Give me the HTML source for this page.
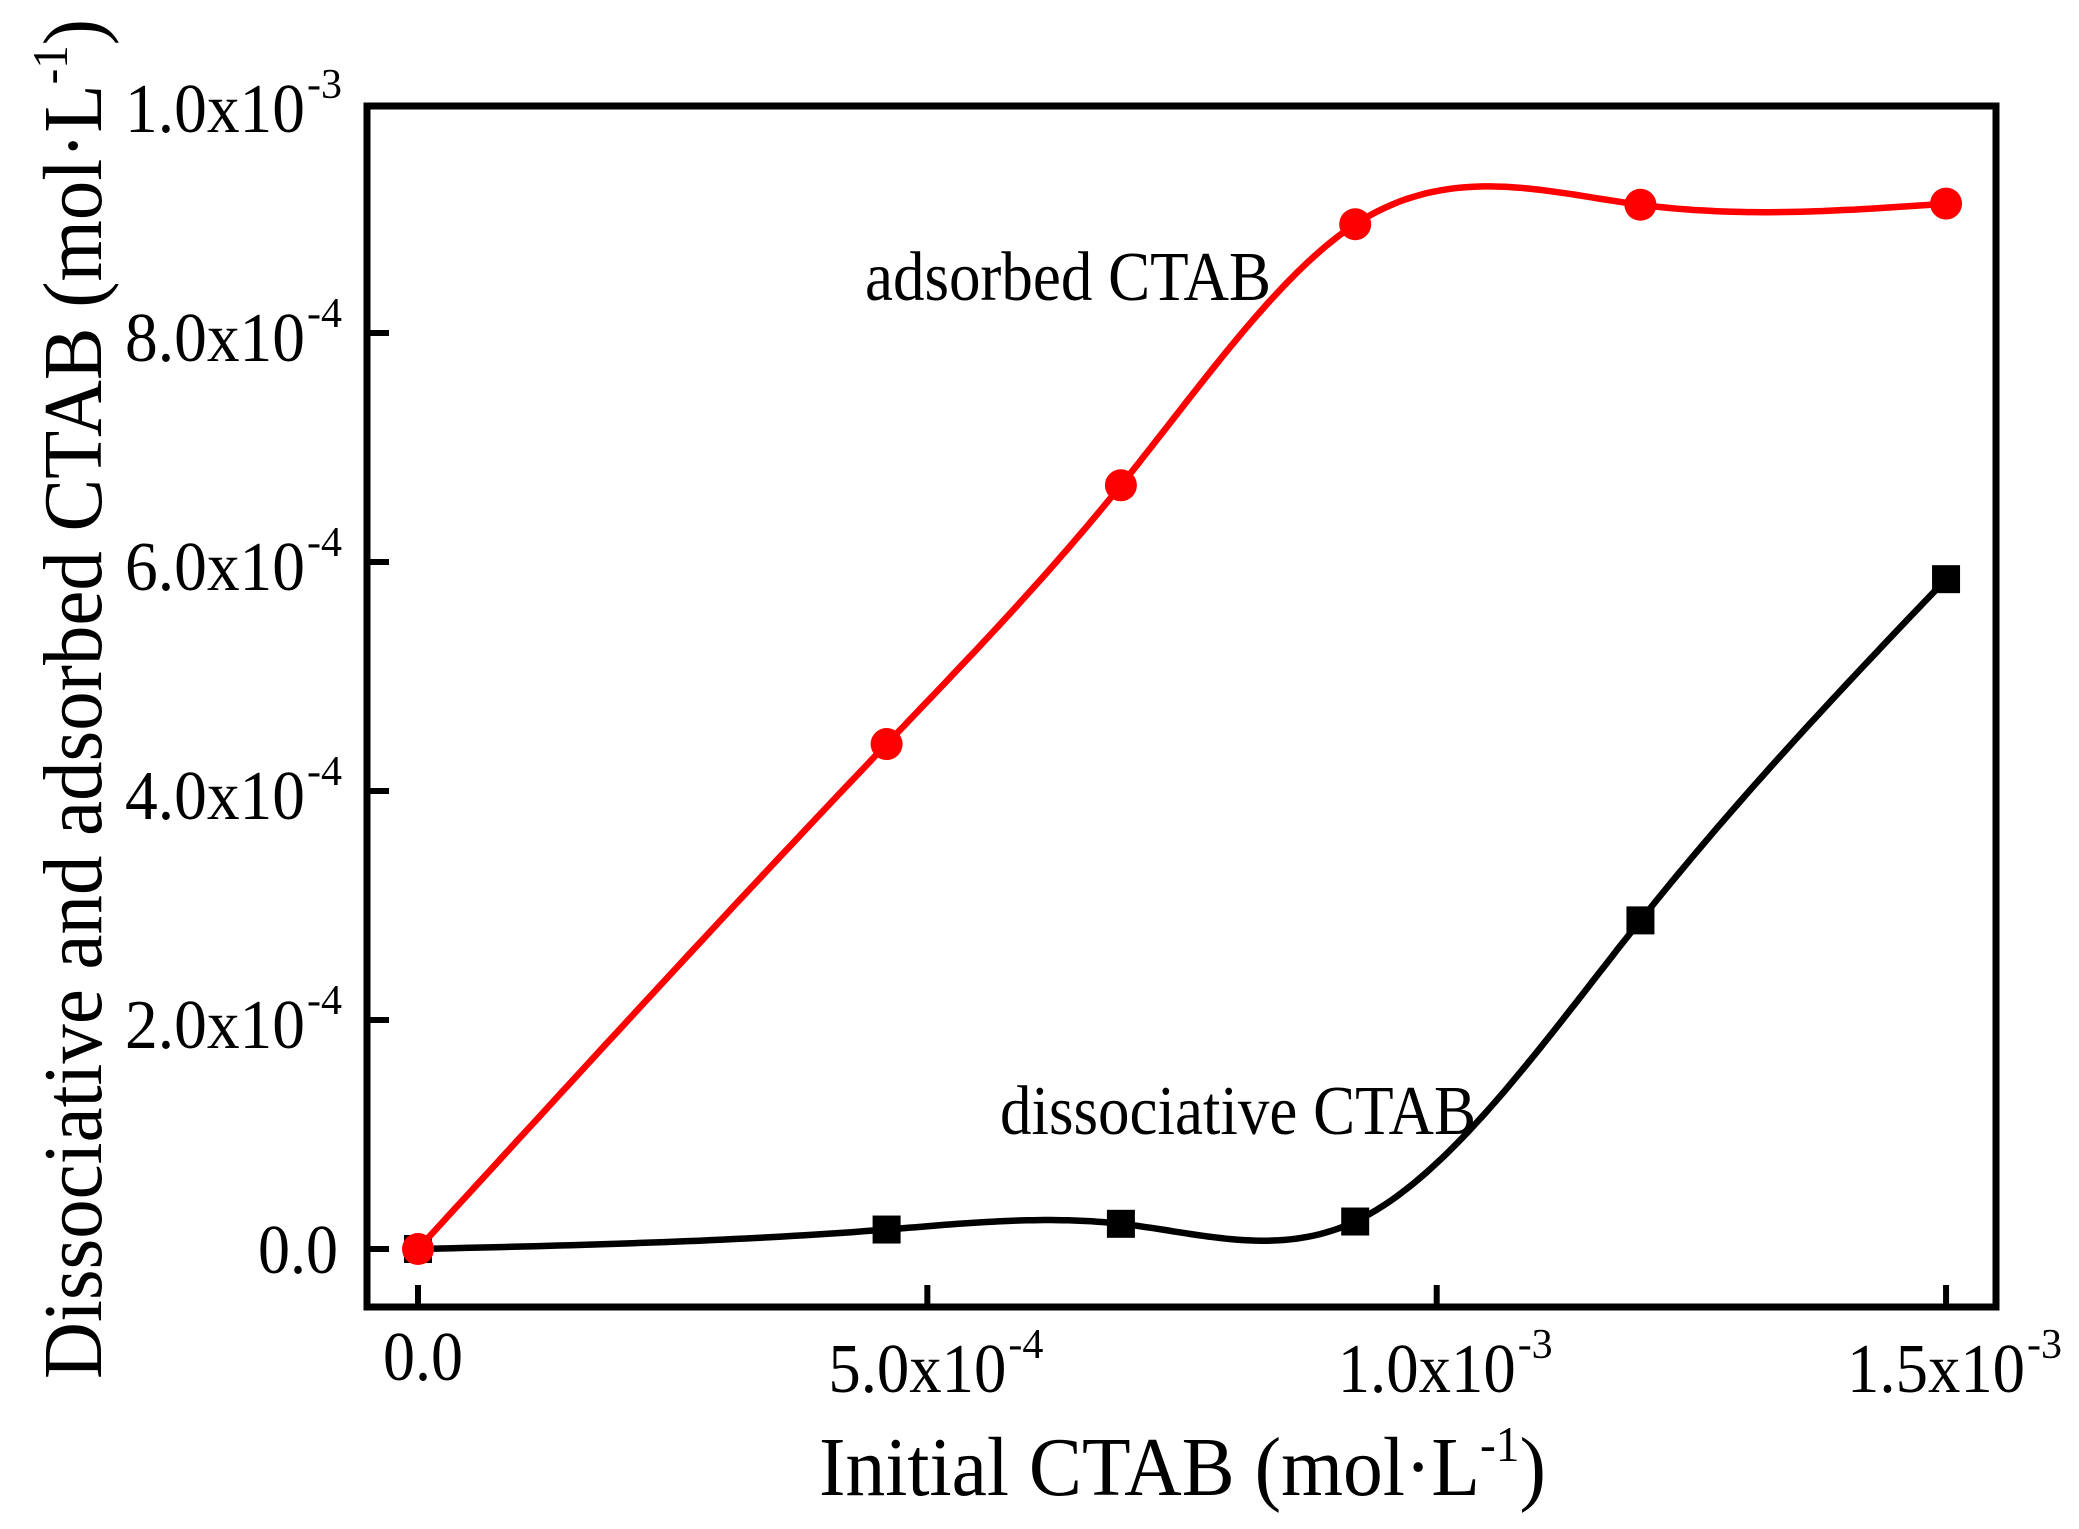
<!DOCTYPE html>
<html><head><meta charset="utf-8"><style>
html,body{margin:0;padding:0;background:#fff;}
svg{display:block;}
text{font-family:"Liberation Serif",serif;fill:#000;}
</style></head><body>
<svg id="chart" width="2079" height="1529" viewBox="0 0 2079 1529" xmlns="http://www.w3.org/2000/svg">
<rect x="0" y="0" width="2079" height="1529" fill="#fff"/>
<g id="plot"></g>
<text x="73" y="699" font-size="84" text-anchor="middle" textLength="1360" lengthAdjust="spacingAndGlyphs" transform="rotate(-90 73 699)" dy="28">Dissociative and adsorbed CTAB (mol·L<tspan font-size="50" dy="-34">-1</tspan><tspan dy="34">)</tspan></text>
<text x="819" y="1495" font-size="84" textLength="727" lengthAdjust="spacingAndGlyphs">Initial CTAB (mol·L<tspan font-size="50" dy="-34">-1</tspan><tspan dy="34">)</tspan></text>
<text x="865" y="300" font-size="70" textLength="406" lengthAdjust="spacingAndGlyphs">adsorbed CTAB</text>
<text x="1000" y="1134" font-size="70" textLength="476" lengthAdjust="spacingAndGlyphs">dissociative CTAB</text>
</svg>
<script>
const xValues = [0, 4.6, 6.9, 9.2, 12.0, 15.0];          // x1e-4 mol/L
const adsorbed = [0, 4.41, 6.67, 8.95, 9.12, 9.13];       // x1e-4
const dissociative = [0, 0.17, 0.22, 0.24, 2.87, 5.85];  // x1e-4
const xTicks = [0, 5, 10, 15];
const xTickLabels = [["0.0",""],["5.0x10","-4"],["1.0x10","-3"],["1.5x10","-3"]];
const yTicks = [0, 2, 4, 6, 8, 10];
const yTickLabels = [["0.0",""],["2.0x10","-4"],["4.0x10","-4"],["6.0x10","-4"],["8.0x10","-4"],["1.0x10","-3"]];

const NS = "http://www.w3.org/2000/svg";
const X0 = 418, XS = 101.87, Y0 = 1249, YS = 114.5;
const L = 367, R = 1996, T = 106, B = 1307;
function sx(v){ return X0 + v*XS; }
function sy(v){ return Y0 - v*YS; }
const g = document.getElementById('plot');
function mk(tag, attrs){ const e=document.createElementNS(NS,tag); for(const k in attrs) e.setAttribute(k,attrs[k]); g.appendChild(e); return e; }

const frame = mk('rect',{x:L,y:T,width:R-L,height:B-T,fill:'none',stroke:'#000','stroke-width':7});



xTicks.forEach((t,i)=>{
  const x = sx(t);
  const tk = mk('line',{x1:x,y1:B,x2:x,y2:B-22,stroke:'#000','stroke-width':6});
  
  
  const lab = xTickLabels[i];
  let tx;
  if(lab[1]){
    tx = mk('text',{x:x-99,y:1392,'font-size':70});
    tx.textContent = lab[0];
    tx.setAttribute('textLength','178');
    tx.setAttribute('lengthAdjust','spacingAndGlyphs');
    const s = mk('text',{x:x+81,y:1358,'font-size':42});
    
    
    s.textContent = lab[1];
  } else {
    tx = mk('text',{x:x-35,y:1380,'font-size':70,textLength:80,lengthAdjust:'spacingAndGlyphs'});
    tx.textContent = lab[0];
  }
  
  
});
yTicks.forEach((t,i)=>{
  const y = Math.max(sy(t), T);
  const tk = mk('line',{x1:L,y1:y,x2:L+22,y2:y,stroke:'#000','stroke-width':6});
  
  
  const ly = sy(t);
  const lab = yTickLabels[i];
  let tx;
  if(lab[1]){
    tx = mk('text',{x:125,y:ly+28,'font-size':70,textLength:180,lengthAdjust:'spacingAndGlyphs'});
    tx.textContent = lab[0];
    const s = mk('text',{x:307,y:ly-6,'font-size':42});
    
    
    s.textContent = lab[1];
  } else {
    tx = mk('text',{x:258,y:ly+24,'font-size':70,textLength:80,lengthAdjust:'spacingAndGlyphs'});
    tx.textContent = lab[0];
  }
  
  
});

function spline(xs, ys){
  const n=xs.length, h=[], al=[], l=[1], mu=[0], z=[0], c=new Array(n).fill(0), b=[], d=[];
  for(let i=0;i<n-1;i++) h[i]=xs[i+1]-xs[i];
  for(let i=1;i<n-1;i++) al[i]=3/h[i]*(ys[i+1]-ys[i])-3/h[i-1]*(ys[i]-ys[i-1]);
  for(let i=1;i<n-1;i++){ l[i]=2*(xs[i+1]-xs[i-1])-h[i-1]*mu[i-1]; mu[i]=h[i]/l[i]; z[i]=(al[i]-h[i-1]*z[i-1])/l[i]; }
  for(let j=n-2;j>=0;j--){ c[j]=(j>0?z[j]:0)-mu[j]*c[j+1]; b[j]=(ys[j+1]-ys[j])/h[j]-h[j]*(c[j+1]+2*c[j])/3; d[j]=(c[j+1]-c[j])/(3*h[j]); }
  const pts=[];
  for(let j=0;j<n-1;j++){
    for(let k=0;k<=40;k++){ const t=h[j]*k/40; const v=ys[j]+b[j]*t+c[j]*t*t+d[j]*t*t*t; pts.push(sx(xs[j]+t).toFixed(1)+','+sy(v).toFixed(1)); }
  }
  return 'M'+pts.join(' L');
}

const blk = mk('path',{d:spline(xValues,dissociative),fill:'none',stroke:'#000','stroke-width':6.5});


dissociative.forEach((v,i)=>{
  const s = mk('rect',{x:sx(xValues[i])-14,y:sy(v)-14,width:28,height:28,fill:'#000'});
  
  
});
const red = mk('path',{d:spline(xValues,adsorbed),fill:'none',stroke:'#ff0000','stroke-width':6.5});


adsorbed.forEach((v,i)=>{
  const c = mk('circle',{cx:sx(xValues[i]),cy:sy(v),r:16,fill:'#ff0000'});
  
  
});
</script>
</body></html>
